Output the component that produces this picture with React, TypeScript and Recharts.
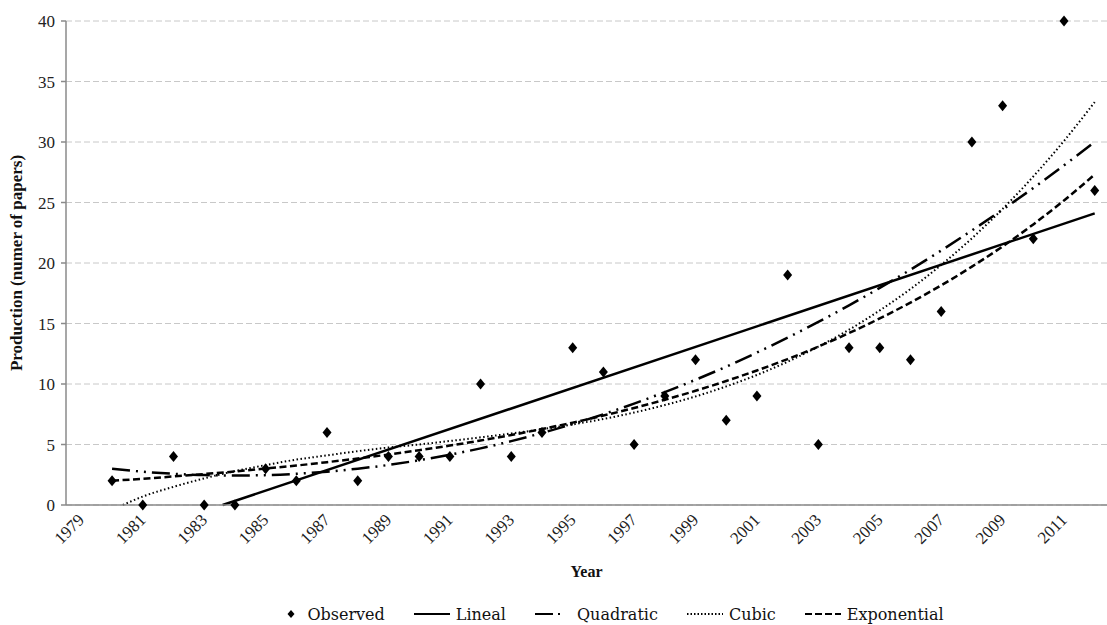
import React from 'react'
import {
  ComposedChart,
  Line,
  Scatter,
  XAxis,
  YAxis,
  CartesianGrid,
  Legend,
} from 'recharts'

// Observed yearly production (number of papers)
const YEARS = [
  1980, 1981, 1982, 1983, 1984, 1985, 1986, 1987, 1988, 1989, 1990, 1991, 1992, 1993, 1994, 1995, 1996,
  1997, 1998, 1999, 2000, 2001, 2002, 2003, 2004, 2005, 2006, 2007, 2008, 2009, 2010, 2011, 2012,
]
const OBSERVED = [2, 0, 4, 0, 0, 3, 2, 6, 2, 4, 4, 4, 10, 4, 6, 13, 11, 5, 9, 12, 7, 9, 19, 5, 13, 13, 12, 16, 30, 33, 22, 40, 26]

// Trend lines
const LINEAL_YEARS = [1983.6, 2012]
const LINEAL = [0, 24.1]

const QUADRATIC = [
  3.0, 2.75, 2.58, 2.47, 2.44, 2.47, 2.58, 2.75, 3.0, 3.31, 3.7, 4.16, 4.68, 5.28, 5.95, 6.69, 7.5, 8.38,
  9.33, 10.35, 11.43, 12.6, 13.83, 15.13, 16.5, 17.94, 19.45, 21.03, 22.69, 24.41, 26.2, 28.07, 30.0,
]

const CUBIC_YEARS = [1980.35, ...YEARS.slice(1)]
const CUBIC = [
  0, 0.7, 1.5, 2.2, 2.8, 3.3, 3.75, 4.1, 4.45, 4.75, 5.0, 5.29, 5.59, 5.91, 6.26, 6.66, 7.11, 7.64, 8.26,
  8.97, 9.8, 10.75, 11.84, 13.09, 14.49, 16.08, 17.85, 19.84, 22.04, 24.47, 27.15, 30.09, 33.3,
]

const EXPONENTIAL = [
  2.0, 2.17, 2.36, 2.56, 2.77, 3.01, 3.26, 3.54, 3.84, 4.17, 4.53, 4.91, 5.33, 5.78, 6.28, 6.81, 7.39,
  8.02, 8.7, 9.44, 10.25, 11.12, 12.06, 13.09, 14.21, 15.42, 16.73, 18.15, 19.7, 21.37, 23.19, 25.17, 27.31,
]

const SERIES_ORDER = ['Observed', 'Lineal', 'Quadratic', 'Cubic', 'Exponential']
const LABEL_TICKS = [1979, 1981, 1983, 1985, 1987, 1989, 1991, 1993, 1995, 1997, 1999, 2001, 2003, 2005, 2007, 2009, 2011]
const BOUND_TICKS = [1978.5, 1980.5, 1982.5, 1984.5, 1986.5, 1988.5, 1990.5, 1992.5, 1994.5, 1996.5, 1998.5, 2000.5, 2002.5, 2004.5, 2006.5, 2008.5, 2010.5]
const Y_TICKS = [0, 5, 10, 15, 20, 25, 30, 35, 40]

const toPoints = (xs: number[], vs: number[]) => xs.map((year, i) => ({ year, v: vs[i] }))

const DASH: Record<string, string | undefined> = {
  Lineal: undefined,
  Quadratic: '18 6 2 6 2 6',
  Cubic: '1.5 2.5',
  Exponential: '7 3.5',
}
const LEGEND_DASH: Record<string, string | undefined> = {
  Lineal: undefined,
  Quadratic: '18 5 2 12',
  Cubic: '1.5 2',
  Exponential: '7 3',
}

const SERIF = '"Liberation Serif", "Times New Roman", serif'
const AXIS = '#8a8a8a'

function YearTick(props: any) {
  const { x, y, payload } = props
  const ax = x + 4
  const ay = y + 15
  return (
    <text
      x={ax}
      y={ay}
      transform={`rotate(-45 ${ax} ${ay})`}
      textAnchor="end"
      fontFamily={SERIF}
      fontSize={17}
      fill="#222"
    >
      {payload.value}
    </text>
  )
}

function Diamond(props: any) {
  const { cx, cy } = props
  if (cx == null || cy == null) return <g />
  return <path d={`M${cx},${cy - 5.5}L${cx + 4.5},${cy}L${cx},${cy + 5.5}L${cx - 4.5},${cy}Z`} fill="#000" />
}

function LegendContent(props: any) {
  const items = [...(props.payload || [])].sort(
    (a: any, b: any) => SERIES_ORDER.indexOf(a.value) - SERIES_ORDER.indexOf(b.value),
  )
  return (
    <div
      style={{
        display: 'flex',
        justifyContent: 'center',
        alignItems: 'center',
        height: 22,
        paddingLeft: 142,
        fontFamily: '"DejaVu Serif", serif',
        fontSize: 16,
        color: '#111',
      }}
    >
      {items.map((entry: any) => (
        <span key={entry.value} style={{ display: 'flex', alignItems: 'center', marginRight: 29 }}>
          {entry.value === 'Observed' ? (
            <svg width={10} height={12} style={{ marginRight: 11 }}>
              <path d="M5,2L8.5,6L5,10L1.5,6Z" fill="#000" />
            </svg>
          ) : (
            <svg width={36} height={10} style={{ marginRight: 6 }}>
              <line x1={0} y1={5} x2={36} y2={5} stroke="#000" strokeWidth={2.2} strokeDasharray={LEGEND_DASH[entry.value]} />
            </svg>
          )}
          {entry.value}
        </span>
      ))}
    </div>
  )
}

export default function App() {
  return (
    <div style={{ position: 'absolute', left: 0, top: 0, background: '#fff' }}>
      <ComposedChart width={1107} height={625} margin={{ top: 21, right: 0, bottom: 0, left: 10 }}>
        <CartesianGrid xAxisId="bounds" vertical={false} stroke="#c8c8c8" strokeDasharray="6 3" />
        <XAxis
          xAxisId="bounds"
          type="number"
          dataKey="year"
          domain={[1978.5, 2012.4]}
          ticks={BOUND_TICKS}
          interval={0}
          height={1}
          tick={false}
          tickSize={6}
          axisLine={{ stroke: AXIS, strokeWidth: 1.5 }}
          tickLine={{ stroke: AXIS, strokeWidth: 1.5 }}
          allowDataOverflow
        />
        <XAxis
          xAxisId="labels"
          type="number"
          dataKey="year"
          domain={[1978.5, 2012.4]}
          ticks={LABEL_TICKS}
          interval={0}
          height={97}
          tickSize={0}
          tickMargin={0}
          axisLine={false}
          tickLine={false}
          tick={<YearTick />}
          allowDataOverflow
          label={{
            value: 'Year',
            position: 'insideBottom',
            offset: 26,
            style: { fontFamily: SERIF, fontSize: 16, fontWeight: 'bold', fill: '#111' },
          }}
        />
        <YAxis
          type="number"
          domain={[0, 40]}
          ticks={Y_TICKS}
          interval={0}
          width={56}
          tickSize={5}
          tickMargin={6}
          axisLine={{ stroke: AXIS, strokeWidth: 1.5 }}
          tickLine={{ stroke: AXIS, strokeWidth: 1.5 }}
          tick={{ fontFamily: SERIF, fontSize: 17, fill: '#222' }}
          label={{
            value: 'Production (numer of papers)',
            angle: -90,
            position: 'insideLeft',
            offset: 6,
            style: { textAnchor: 'middle', fontFamily: SERIF, fontSize: 17, fontWeight: 'bold', fill: '#111' },
          }}
        />
        <Legend verticalAlign="bottom" content={<LegendContent />} />
        <Scatter
          name="Observed"
          xAxisId="bounds"
          data={toPoints(YEARS, OBSERVED)}
          dataKey="v"
          fill="#000"
          shape={<Diamond />}
          legendType="diamond"
          isAnimationActive={false}
        />
        <Line
          name="Lineal"
          xAxisId="bounds"
          data={toPoints(LINEAL_YEARS, LINEAL)}
          dataKey="v"
          type="linear"
          stroke="#000"
          strokeWidth={2.5}
          dot={false}
          activeDot={false}
          isAnimationActive={false}
        />
        <Line
          name="Quadratic"
          xAxisId="bounds"
          data={toPoints(YEARS, QUADRATIC)}
          dataKey="v"
          type="monotone"
          stroke="#000"
          strokeWidth={2.5}
          strokeDasharray={DASH.Quadratic}
          dot={false}
          activeDot={false}
          isAnimationActive={false}
        />
        <Line
          name="Cubic"
          xAxisId="bounds"
          data={toPoints(CUBIC_YEARS, CUBIC)}
          dataKey="v"
          type="monotone"
          stroke="#000"
          strokeWidth={2}
          strokeDasharray={DASH.Cubic}
          dot={false}
          activeDot={false}
          isAnimationActive={false}
        />
        <Line
          name="Exponential"
          xAxisId="bounds"
          data={toPoints(YEARS, EXPONENTIAL)}
          dataKey="v"
          type="monotone"
          stroke="#000"
          strokeWidth={2.5}
          strokeDasharray={DASH.Exponential}
          dot={false}
          activeDot={false}
          isAnimationActive={false}
        />
      </ComposedChart>
    </div>
  )
}
